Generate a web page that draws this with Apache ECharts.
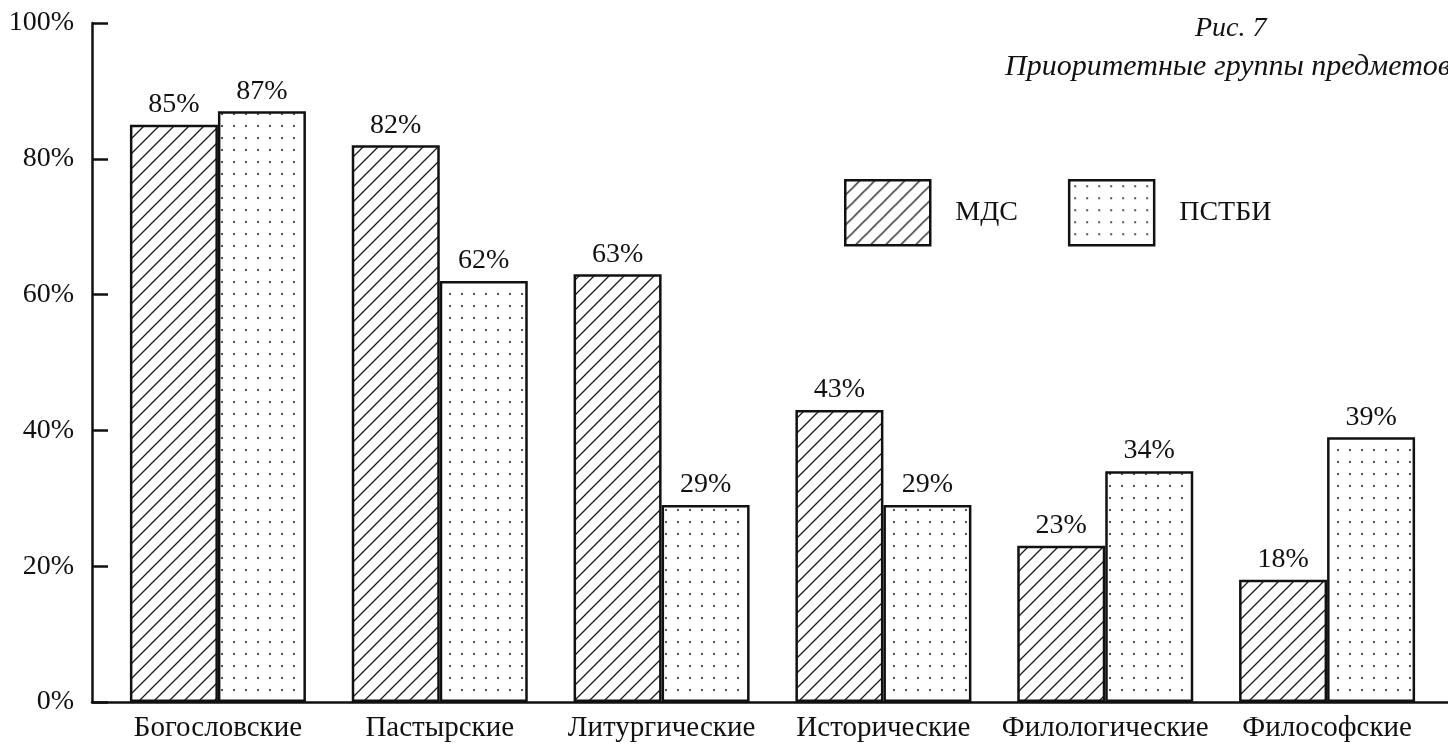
<!DOCTYPE html>
<html>
<head>
<meta charset="utf-8">
<script src="https://cdn.jsdelivr.net/npm/echarts@6/dist/echarts.min.js"></script>
<style>
html,body{margin:0;padding:0;background:#fff;}
#chart{width:1448px;height:746px;}
</style>
</head>
<body>
<div id="chart"></div>
<script>
const categories = ['Богословские','Пастырские','Литургические','Исторические','Филологические','Философские'];
const seriesNames = ['МДС','ПСТБИ'];
const mdsValues = [85, 82, 63, 43, 23, 18];
const pstbiValues = [87, 62, 29, 29, 34, 39];
const yTicks = [0, 20, 40, 60, 80, 100];
const titleLine1 = 'Рис. 7';
const titleLine2 = 'Приоритетные группы предметов';

const FONT = 'Liberation Serif';
const INK = '#111';

function hatchTile(){
  const s = 15;
  const c = document.createElement('canvas');
  c.width = s; c.height = s;
  const g = c.getContext('2d');
  g.fillStyle = '#fff'; g.fillRect(0,0,s,s);
  g.strokeStyle = '#1a1a1a'; g.lineWidth = 1.3;
  g.beginPath();
  g.moveTo(-2, s+2); g.lineTo(s+2, -2);
  g.moveTo(-2, 2); g.lineTo(2, -2);
  g.moveTo(s-2, s+2); g.lineTo(s+2, s-2);
  g.stroke();
  return c;
}
function dotTile(){
  const s = 12;
  const c = document.createElement('canvas');
  c.width = s; c.height = s;
  const g = c.getContext('2d');
  g.fillStyle = '#fff'; g.fillRect(0,0,s,s);
  g.fillStyle = '#555';
  g.fillRect(5,5,2,2);
  return c;
}
const hatch = {image: hatchTile(), repeat: 'repeat'};
const dots = {image: dotTile(), repeat: 'repeat'};

const chart = echarts.init(document.getElementById('chart'), null, {renderer:'canvas'});
const labelStyle = {
  show: true, position: 'top', distance: 6,
  formatter: '{c}%', fontFamily: FONT, fontSize: 28, color: INK
};
chart.setOption({
  backgroundColor: '#fff',
  animation: false,
  title: [
    {text: titleLine1, left: 1190, top: 10,
     textStyle:{fontFamily: FONT, fontStyle:'italic', fontWeight:'normal', fontSize: 28, color: INK}},
    {text: titleLine2, left: 1000, top: 47,
     textStyle:{fontFamily: FONT, fontStyle:'italic', fontWeight:'normal', fontSize: 30, color: INK}}
  ],
  legend: {
    data: seriesNames, left: 839, top: 174, icon: 'rect',
    itemWidth: 85, itemHeight: 65, itemGap: 50,
    itemStyle: {borderColor: INK, borderWidth: 2.5},
    textStyle: {fontFamily: FONT, fontSize: 28, color: INK, padding: [0,0,0,20]},
    selectedMode: false
  },
  grid: [
    {left: 107, right: 10, top: 23, bottom: 44, containLabel: false},
    {left: 92, right: 0, top: 23, bottom: 44, containLabel: false}
  ],
  xAxis: [
    {type: 'category', data: categories, gridIndex: 0,
     axisLine: {show: false}, axisTick: {show: false},
     axisLabel: {fontFamily: FONT, fontSize: 29, color: INK, margin: 12, interval: 0}},
    {type: 'value', gridIndex: 1, min: 0, max: 1,
     axisLine: {show: true, lineStyle: {color: INK, width: 2.5}},
     axisTick: {show: false}, axisLabel: {show: false}, splitLine: {show: false}}
  ],
  yAxis: [
    {type: 'value', gridIndex: 0, min: yTicks[0], max: yTicks[yTicks.length-1], interval: 20,
     offset: 15,
     axisLine: {show: true, lineStyle: {color: INK, width: 2.5}},
     axisTick: {show: true, inside: true, length: 16, lineStyle: {color: INK, width: 2.5}},
     axisLabel: {formatter: '{value}%', fontFamily: FONT, fontSize: 28, color: INK, margin: 18,
                 padding: [8,0,0,0]},
     splitLine: {show: false}},
    {type: 'value', gridIndex: 1, show: false, min: 0, max: 1}
  ],
  series: [
    {name: seriesNames[0], type: 'bar', data: mdsValues, barWidth: 88, barGap: '0%',
     itemStyle: {color: hatch, borderColor: INK, borderWidth: 2.5},
     label: labelStyle, emphasis: {disabled: true}},
    {name: seriesNames[1], type: 'bar', data: pstbiValues, barWidth: 88, barGap: '0%',
     itemStyle: {color: dots, borderColor: INK, borderWidth: 2.5},
     label: labelStyle, emphasis: {disabled: true}}
  ]
});
</script>
</body>
</html>
